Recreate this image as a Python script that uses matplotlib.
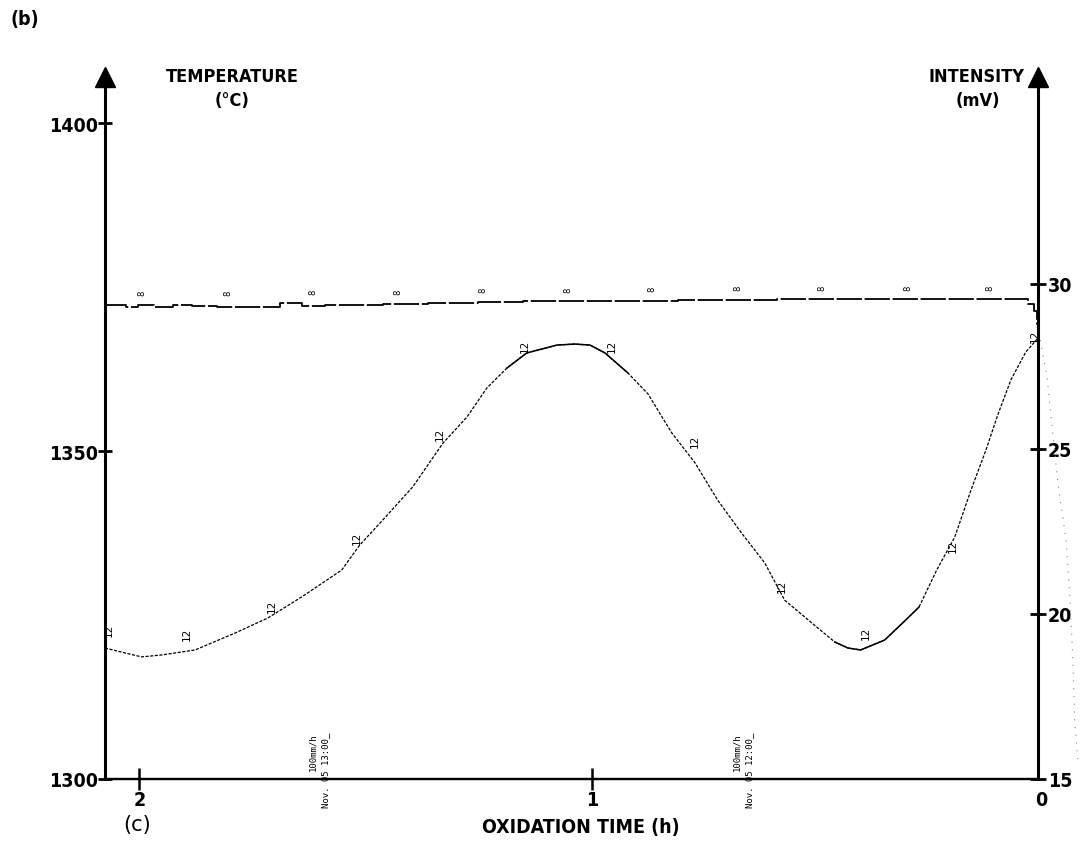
import matplotlib.pyplot as plt

# Data (time in h, counting down to 0)
int_time = [2.076, 2.032, 1.995, 1.950, 1.877, 1.789, 1.716, 1.641, 1.553, 1.513,
            1.462, 1.396, 1.329, 1.276, 1.232, 1.188, 1.144, 1.077, 1.038, 1.004,
            0.971, 0.920, 0.876, 0.823, 0.772, 0.722, 0.669, 0.618, 0.574, 0.514,
            0.463, 0.434, 0.406, 0.353, 0.313, 0.277, 0.238, 0.198, 0.162, 0.129,
            0.103, 0.074, 0.041, 0.014]
intensity = [18.97, 18.82, 18.70, 18.76, 18.91, 19.42, 19.88, 20.52, 21.33, 22.09,
             22.85, 23.85, 25.18, 25.97, 26.85, 27.45, 27.91, 28.15, 28.18, 28.15,
             27.91, 27.30, 26.67, 25.48, 24.58, 23.45, 22.45, 21.55, 20.42, 19.73,
             19.15, 18.97, 18.91, 19.21, 19.73, 20.21, 21.33, 22.33, 23.76, 24.97,
             26.03, 27.09, 27.94, 28.36]

temp_time = [2.076, 2.040, 2.020, 1.985, 1.950, 1.900, 1.866, 1.790, 1.720, 1.660,
             1.620, 1.560, 1.500, 1.424, 1.300, 1.203, 1.100, 0.982, 0.860, 0.761,
             0.640, 0.540, 0.420, 0.319, 0.200, 0.098, 0.043, 0.028, 0.019, 0.014]
temperature = [1372.3, 1372.3, 1371.9, 1372.3, 1371.9, 1372.3, 1372.1, 1371.9, 1372.0, 1372.6,
               1372.1, 1372.2, 1372.3, 1372.4, 1372.5, 1372.7, 1372.8, 1372.9, 1372.9, 1373.0,
               1373.0, 1373.2, 1373.1, 1373.2, 1373.2, 1373.2, 1373.2, 1372.4, 1371.3, 1369.4]

# faint pen trace beyond the right axis
tail_time = [0.009, -0.006, -0.015, -0.030, -0.048, -0.057, -0.063, -0.067, -0.074]
tail_int = [28.30, 27.18, 25.97, 23.97, 22.24, 20.42, 18.61, 16.79, 15.55]

# recorder pen labels
lab12_time = [2.068, 1.895, 1.707, 1.519, 1.336, 1.148, 0.956, 0.772, 0.580, 0.394, 0.202, 0.021]
lab12_int = [19.52, 19.42, 20.27, 22.33, 25.48, 28.15, 28.15, 25.27, 20.88, 19.45, 22.09, 28.45]
lab8_time = [1.994, 1.804, 1.616, 1.428, 1.240, 1.052, 0.867, 0.677, 0.491, 0.301, 0.120]
lab8_temp = [1374.2, 1374.2, 1374.3, 1374.4, 1374.6, 1374.7, 1374.8, 1374.9, 1375.0, 1375.0, 1375.0]

temp_ticks = [1300, 1350, 1400]
int_ticks = [15, 20, 25, 30]
time_ticks = [2, 1]

W, H = 1091, 854
cond = ['Liberation Sans Narrow', 'DejaVu Sans']
bold = dict(family=cond, fontweight='bold', fontstretch='condensed')


def main():
    fig = plt.figure(figsize=(W / 100, H / 100), dpi=100)
    ax = fig.add_axes([105 / W, 1 - 780 / H, (1038 - 105) / W, (780 - 90) / H])
    ax2 = ax.twinx()

    ax.set_xlim(2.076, 0.014)
    ax.set_ylim(1300, 1300 + 690 / 6.56)
    ax2.set_ylim(15, 15 + 690 / 33.0)

    for a in (ax, ax2):
        a.spines['top'].set_visible(False)
        a.spines['left'].set_linewidth(2.2)
        a.spines['right'].set_linewidth(2.2)
        a.spines['bottom'].set_linewidth(1.6)
    ax2.spines['left'].set_visible(False)
    ax.spines['right'].set_visible(False)

    # curves
    ax.plot(temp_time, temperature, color='black', lw=1.3,
            ls=(0, (14, 1.5)), drawstyle='steps-mid')
    ax2.plot(int_time, intensity, color='black', lw=0.9, ls=(0, (2.5, 1.2)))
    ax2.plot(int_time[15:22], intensity[15:22], color='black', lw=1.1)
    ax2.plot(int_time[30:36], intensity[30:36], color='black', lw=1.1)
    ax2.plot(tail_time, tail_int, color='#888888', lw=0.8, ls=(0, (1, 6)), clip_on=False)

    for t, v in zip(lab12_time, lab12_int):
        ax2.text(t, v, '12', rotation=90, fontsize=7.5, ha='center', va='center',
                 family='DejaVu Sans')
    for t, v in zip(lab8_time, lab8_temp):
        ax.text(t, v, '8', rotation=90, fontsize=6, ha='center', va='center',
                family='DejaVu Sans')

    # ticks
    ax.set_yticks(temp_ticks)
    ax.set_yticklabels([str(v) for v in temp_ticks], **bold, fontsize=14)
    ax.tick_params(axis='y', direction='inout', length=10, width=2, pad=0)
    ax2.set_yticks(int_ticks)
    ax2.set_yticklabels([str(v) for v in int_ticks], **bold, fontsize=14)
    ax2.tick_params(axis='y', direction='inout', length=12, width=2, pad=1)
    ax.set_xticks(time_ticks)
    ax.set_xticklabels([str(v) for v in time_ticks], **bold, fontsize=14)
    ax.tick_params(axis='x', direction='inout', length=16, width=1.8, pad=0)
    ax.text(1.004, -0.016, '0', transform=ax.transAxes, ha='center', va='top',
            **bold, fontsize=14)

    # arrow heads on the vertical axes
    for xa in (0, 1):
        ax.plot([xa], [1.018], marker='^', ms=15, color='black',
                transform=ax.transAxes, clip_on=False)

    # chart speed stamps
    mono = dict(rotation=90, fontsize=6.5, family='DejaVu Sans Mono',
                ha='center', va='top', transform=fig.transFigure)
    fig.text(313 / W, 1 - 733 / H, '100mm/h', **mono)
    fig.text(326 / W, 1 - 733 / H, 'Nov. 05 13:00_', **mono)
    fig.text(737 / W, 1 - 733 / H, '100mm/h', **mono)
    fig.text(750 / W, 1 - 733 / H, 'Nov. 05 12:00_', **mono)

    # labels
    fig.text(10 / W, 1 - 19 / H, '(b)', **bold, fontsize=14, va='center')
    fig.text(137 / W, 1 - 825 / H, '(c)', family=cond, fontsize=15,
             ha='center', va='center')
    fig.text(232 / W, 1 - 77 / H, 'TEMPERATURE', **bold, fontsize=13, ha='center', va='center')
    fig.text(232 / W, 1 - 101 / H, '(°C)', **bold, fontsize=13, ha='center', va='center')
    fig.text(976 / W, 1 - 77 / H, 'INTENSITY', **bold, fontsize=13, ha='center', va='center')
    fig.text(978 / W, 1 - 101 / H, '(mV)', **bold, fontsize=13, ha='center', va='center')
    fig.text(581 / W, 1 - 828 / H, 'OXIDATION TIME (h)', **bold, fontsize=14,
             ha='center', va='center')

    fig.savefig('out.png', dpi=100)


if __name__ == '__main__':
    main()
